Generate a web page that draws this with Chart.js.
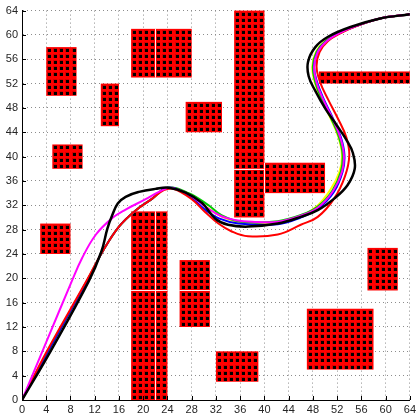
<!DOCTYPE html>
<html>
<head>
<meta charset="utf-8">
<title>Paths</title>
<script src="https://cdn.jsdelivr.net/npm/chart.js@4.4.0/dist/chart.umd.min.js"></script>
<style>
  html, body { margin: 0; padding: 0; background: #fff; }
  #wrap { width: 419px; height: 416px; }
</style>
</head>
<body>
<div id="wrap"><canvas id="chart"></canvas></div>
<script>
// axis range / ticks
const axisMin = 0;
const axisMax = 64;
const tickStep = 4;

// obstacles: [x0, y0, x1, y1] in grid cells
const obstacles = [
    [4, 50, 9, 58],
    [13, 45, 16, 52],
    [18, 53, 22, 61], [22, 53, 28, 61],
    [27, 44, 33, 49],
    [35, 38, 40, 64], [35, 30, 40, 38],
    [40, 34, 50, 39],
    [49, 52, 64, 54],
    [5, 38, 10, 42],
    [3, 24, 8, 29],
    [18, 0, 22, 18], [22, 0, 24, 18], [18, 18, 22, 31], [22, 18, 24, 31],
    [26, 12, 31, 18], [26, 18, 31, 23],
    [32, 3, 39, 8],
    [47, 5, 58, 15],
    [57, 18, 62, 25]
];

// paths (x, y)
const pathBlack = [
    [0, 0], [4.7, 8], [11, 19.5], [13.1, 24.4], [14.1, 28.2], [14.9, 30.4], [15.8, 32.3],
    [17.1, 33.4], [19.3, 34.2], [22, 34.7], [24.2, 34.9], [27, 34.1], [29.7, 32.4],
    [31.9, 29.8], [34, 28.8], [37.3, 28.5], [42.2, 29.0], [46, 30.1], [48.8, 31.2],
    [51.5, 33.1], [53.7, 35.3], [54.9, 38], [54.6, 40.6], [53.5, 42.8], [51.9, 45.2],
    [50.1, 47.8], [48.4, 50.8], [47.3, 53.2], [47.2, 55.6], [48.4, 58], [50.5, 59.7],
    [54.2, 61.3], [59.1, 62.7], [64, 63.4]
];
const pathMagenta = [
    [0, 0], [4, 9.5], [8.2, 19.5], [9.9, 23.3], [12.2, 27.2], [14.9, 29.9], [17.1, 31.3],
    [20.4, 33], [22.6, 34.2], [24.5, 34.9], [27.5, 33.8], [30.5, 31.6],
    [32.9, 30.2], [35.1, 29.6], [38, 29.3], [42.2, 29.3], [46, 30.3], [48.8, 31.6],
    [51.3, 34.3], [52.8, 37.5], [53.1, 40.3], [52.5, 43.2], [51.2, 46.3], [49.7, 49.4],
    [48.6, 52.2], [48.2, 54.8], [48.8, 57.2], [50.3, 59], [52.4, 60.3], [55, 61.4],
    [59.1, 62.7], [64, 63.4]
];
const pathGreen = [
    [0, 0], [4.3, 8], [10.7, 19.5], [13.3, 24.4], [16, 28.5], [18.8, 31.2], [21.5, 33.1],
    [24, 34.9], [27.5, 34], [30.8, 32], [32.9, 30.4], [36.2, 29.3], [42.2, 29.4],
    [46, 30.4], [48.8, 31.8], [51.2, 34.4], [52.6, 37.5], [52.9, 40.3], [52.3, 43.2],
    [51, 46.3], [49.5, 49.4], [48.4, 52.2], [48, 54.8], [48.6, 57.2], [50.1, 59],
    [52.3, 60.3], [55, 61.4], [59.1, 62.7], [64, 63.4]
];
const pathYellow = [
    [0, 0], [4.3, 8], [10.7, 19.5], [13.3, 24.4], [16, 28.5], [18.8, 31.2], [21.5, 33.1],
    [24, 34.9], [27.5, 33.8], [30.6, 31.6], [33, 30.1], [36.2, 29.2], [42.2, 29.2],
    [46, 30.2], [48.6, 31.8], [50.9, 34.6], [52.4, 37.6], [52.8, 40.3], [52.2, 43.2],
    [50.9, 46.3], [49.4, 49.4], [48.3, 52.2], [47.9, 54.8], [48.5, 57.2], [50, 59],
    [52.2, 60.3], [55, 61.4], [59.1, 62.7], [64, 63.4]
];
const pathBlue = [
    [0, 0], [4.3, 8], [10.7, 19.5], [13.3, 24.4], [16, 28.5], [18.8, 31.2], [21.5, 33.1],
    [24, 34.9], [27.3, 33.7], [30.3, 31.2], [32.6, 29.8], [35.7, 29], [42.2, 28.9],
    [46, 30], [48.8, 31.4], [51.4, 34.1], [52.9, 37.5], [53.2, 40.3], [52.6, 43.2],
    [51.3, 46.3], [49.8, 49.4], [48.7, 52.2], [48.2, 54.8], [48.8, 57.2], [50.3, 59],
    [52.4, 60.3], [55, 61.4], [59.1, 62.7], [64, 63.4]
];
const pathRed = [
    [0, 0], [4.1, 8], [10.6, 19.5], [13.3, 24.4], [16, 28.5], [18.8, 31.2], [21.5, 33.1],
    [23.4, 34.5], [25, 34.7], [28, 33], [30.2, 30.9], [32.4, 29], [34.6, 27.7],
    [37.3, 26.9], [42.2, 27.2], [46, 28.8], [48.8, 30.1], [51.5, 33.1], [53.3, 36.8],
    [54, 40.2], [53.5, 43.2], [52.1, 46.3], [50.5, 49.4], [49.2, 52.2], [48.6, 54.8],
    [49.1, 57.2], [50.5, 59], [52.6, 60.3], [55.1, 61.4], [59.1, 62.7], [64, 63.4]
];

const tickValues = [];
for (let v = axisMin; v <= axisMax; v += tickStep) tickValues.push(v);

function toXY(path) {
    return path.map(p => ({ x: p[0], y: p[1] }));
}

function lineSet(path, color, width) {
    return {
        data: toXY(path),
        showLine: true,
        borderColor: color,
        backgroundColor: color,
        borderWidth: width,
        pointRadius: 0,
        tension: 0.4,
        fill: false
    };
}

// obstacles drawn under the paths
const obstaclePlugin = {
    id: 'obstacles',
    beforeDatasetsDraw(chart) {
        const { ctx, scales: { x, y } } = chart;
        ctx.save();
        obstacles.forEach(([x0, y0, x1, y1]) => {
            const left = x.getPixelForValue(x0), right = x.getPixelForValue(x1);
            const top = y.getPixelForValue(y1), bottom = y.getPixelForValue(y0);
            ctx.fillStyle = '#ff0000';
            ctx.fillRect(left, top, right - left, bottom - top);
            for (let cx = x0; cx < x1; cx++) {
                for (let cy = y0; cy < y1; cy++) {
                    const px = Math.round(x.getPixelForValue(cx + 0.5));
                    const py = Math.round(y.getPixelForValue(cy + 0.5));
                    ctx.fillStyle = '#d80000';
                    ctx.fillRect(px - 2, py - 2, 4, 4);
                    ctx.fillStyle = '#000';
                    ctx.fillRect(px - 1, py - 1, 3, 3);
                }
            }
        });
        // white seams where two obstacles touch
        ctx.strokeStyle = 'rgba(255,255,255,0.9)';
        ctx.lineWidth = 1;
        ctx.beginPath();
        obstacles.forEach(a => {
            obstacles.forEach(b => {
                if (a === b) return;
                if (a[2] === b[0] && a[1] < b[3] && b[1] < a[3]) {
                    const px = Math.round(x.getPixelForValue(a[2])) + 0.5;
                    ctx.moveTo(px, y.getPixelForValue(Math.min(a[3], b[3])));
                    ctx.lineTo(px, y.getPixelForValue(Math.max(a[1], b[1])));
                }
                if (a[3] === b[1] && a[0] < b[2] && b[0] < a[2]) {
                    const py = Math.round(y.getPixelForValue(a[3])) + 0.5;
                    ctx.moveTo(x.getPixelForValue(Math.max(a[0], b[0])), py);
                    ctx.lineTo(x.getPixelForValue(Math.min(a[2], b[2])), py);
                }
            });
        });
        ctx.stroke();
        ctx.restore();
    },
    afterDraw(chart) {
        // small inward ticks on the axes
        const { ctx, chartArea, scales: { x, y } } = chart;
        ctx.save();
        ctx.strokeStyle = '#000';
        ctx.lineWidth = 1;
        ctx.beginPath();
        tickValues.forEach(v => {
            const px = Math.round(x.getPixelForValue(v)) + 0.5;
            ctx.moveTo(px, chartArea.bottom);
            ctx.lineTo(px, chartArea.bottom - 4);
            const py = Math.round(y.getPixelForValue(v)) + 0.5;
            ctx.moveTo(chartArea.left, py);
            ctx.lineTo(chartArea.left + 4, py);
        });
        ctx.stroke();
        ctx.restore();
    }
};

const gridOpts = {
    color: '#8c8c8c',
    lineWidth: 1,
    drawTicks: false
};

new Chart(document.getElementById('chart'), {
    type: 'scatter',
    data: {
        datasets: [
            lineSet(pathBlack, '#000000', 2.5),
            lineSet(pathMagenta, '#ff00ff', 2),
            lineSet(pathRed, '#ff0000', 2),
            lineSet(pathBlue, '#0000ff', 2),
            lineSet(pathGreen, '#00c800', 2),
            lineSet(pathYellow, '#ffff00', 2)
        ]
    },
    options: {
        responsive: true,
        maintainAspectRatio: false,
        animation: false,
        layout: { padding: { top: 7, right: 6, left: 0, bottom: 0 } },
        scales: {
            x: {
                type: 'linear',
                min: axisMin,
                max: axisMax,
                grid: gridOpts,
                border: { display: true, color: '#000', width: 1, dash: [1, 3] },
                ticks: {
                    stepSize: tickStep,
                    padding: 3,
                    color: '#262626',
                    font: { family: 'Liberation Sans, Arial, sans-serif', size: 11 },
                    maxRotation: 0
                },
                afterFit(scale) { scale.height = 16; }
            },
            y: {
                type: 'linear',
                min: axisMin,
                max: axisMax,
                grid: gridOpts,
                border: { display: true, color: '#000', width: 1, dash: [1, 3] },
                ticks: {
                    stepSize: tickStep,
                    padding: 4,
                    color: '#262626',
                    font: { family: 'Liberation Sans, Arial, sans-serif', size: 11 }
                },
                afterFit(scale) { scale.width = 22; }
            }
        },
        plugins: {
            legend: { display: false },
            tooltip: { enabled: false }
        }
    },
    plugins: [obstaclePlugin]
});
</script>
</body>
</html>
